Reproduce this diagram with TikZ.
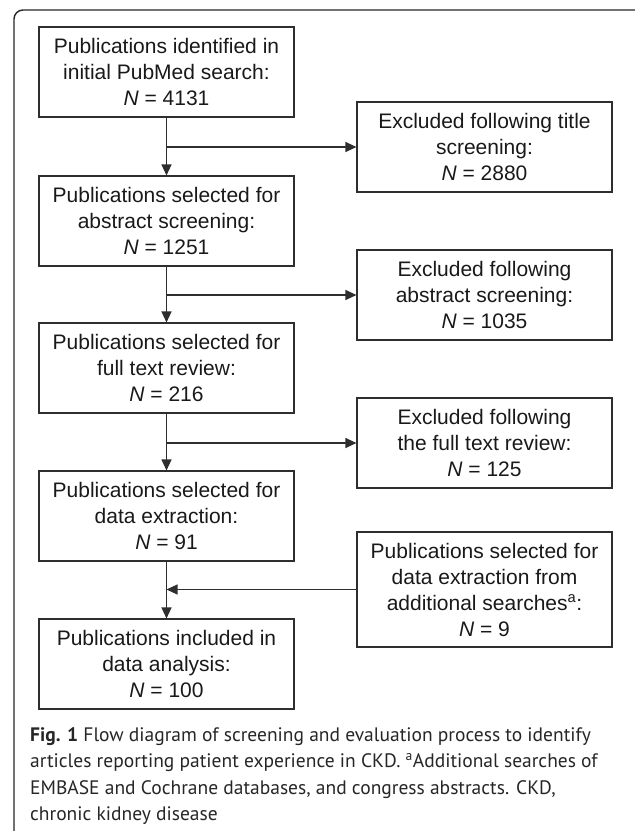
\documentclass[tikz,border=0pt]{standalone}
\usepackage{fontspec}
\setmainfont{Liberation Sans}
\newfontfamily\capfont{PT Sans}
\usetikzlibrary{arrows.meta}
\definecolor{boxline}{HTML}{2E2E2E}
\tikzset{x=1pt, y=-1pt,
 stage/.style={draw=boxline, line width=1.1pt, minimum width=255pt,
   minimum height=90pt, align=center, inner sep=0pt,
   font=\fontsize{21}{26}\selectfont, text=black!90},
 tallstage/.style={stage, minimum height=115pt},
 flow/.style={draw=boxline, line width=1.1pt,
   -{Triangle[length=11pt,width=10pt]}},
 frame/.style={draw=black!85, line width=1.4pt, rounded corners=9pt},
 caption/.style={align=left, inner sep=0pt, text=black!85,
   font=\capfont\fontsize{19.5}{26.6}\selectfont},
 }

\begin{document}
\begin{tikzpicture}
        \useasboundingbox (0,0) rectangle (635,831);
        \draw[frame] (14,831) -- (14,10) -- (635,10);
        \node[stage] (found) at (166.5,72) {Publications identified in\\initial PubMed search:\\\textit{N} = 4131};
        \node[stage] (abstract) at (166.5,221) {Publications selected for\\abstract screening:\\\textit{N} = 1251};
        \node[stage] (fulltext) at (166.5,368) {Publications selected for\\full text review:\\\textit{N} = 216};
        \node[stage] (extract) at (166.5,516) {Publications selected for\\data extraction:\\\textit{N} = 91};
        \node[stage] (analysis) at (166.5,664) {Publications included in\\data analysis:\\\textit{N} = 100};
        \node[stage] (extitle) at (484.5,147) {Excluded following title\\screening:\\\textit{N} = 2880};
        \node[stage] (exabstract) at (484.5,295) {Excluded following\\abstract screening:\\\textit{N} = 1035};
        \node[stage] (exfull) at (484.5,443) {Excluded following\\the full text review:\\\textit{N} = 125};
        \node[tallstage] (extra) at (484.5,589.5) {Publications selected for\\data extraction from\\additional searches\textsuperscript{a}:\\\textit{N} = 9};
        \draw[flow] (found) -- (abstract);
        \draw[flow] (abstract) -- (fulltext);
        \draw[flow] (fulltext) -- (extract);
        \draw[flow] (extract) -- (analysis);
        \draw[flow] (found.south |- extitle.west) -- (extitle.west);
        \draw[flow] (abstract.south |- exabstract.west) -- (exabstract.west);
        \draw[flow] (fulltext.south |- exfull.west) -- (exfull.west);
        \draw[flow] (extra.west) -- (extract.south |- extra.west);
        \node[caption, anchor=north west] (figcap) at (30,727) {\textbf{Fig. 1} Flow diagram of screening and evaluation process to identify\\articles reporting patient experience in CKD. \textsuperscript{a}Additional searches of\\EMBASE and Cochrane databases, and congress abstracts. CKD,\\chronic kidney disease};
    \end{tikzpicture}
\end{document}
